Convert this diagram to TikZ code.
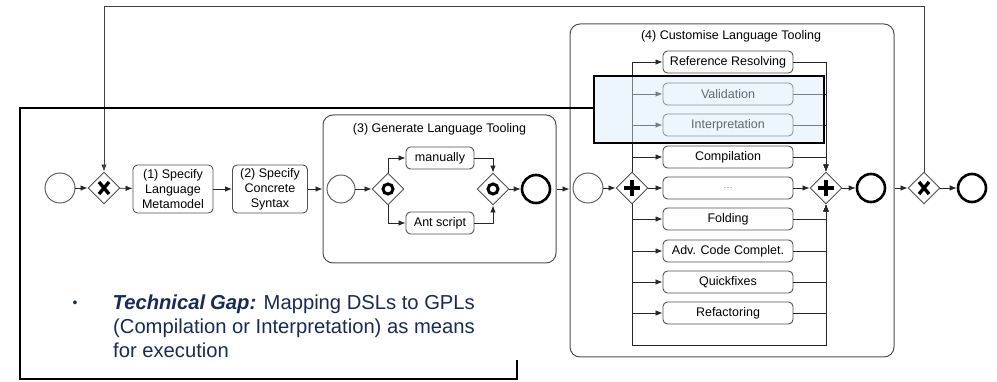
\documentclass[tikz,border=0pt]{standalone}
\usepackage{fontspec}
\setmainfont{Liberation Sans}
\usetikzlibrary{shapes.geometric, arrows.meta, calc}
\definecolor{navy}{RGB}{23,43,87}
\definecolor{hlblue}{RGB}{214,232,250}
\definecolor{edgec}{RGB}{40,40,40}
\definecolor{boxc}{RGB}{80,80,80}
\begin{document}
\begin{tikzpicture}[x=1pt,y=-1pt,
  font=\fontsize{12.5}{15}\selectfont,
  ev/.style={circle, draw=boxc, line width=0.9pt, minimum size=30pt, inner sep=0pt},
  endev/.style={circle, draw=black, line width=2.6pt, minimum size=28pt, inner sep=0pt},
  gw/.style={diamond, draw=boxc, line width=0.9pt, minimum width=32pt, minimum height=32pt, inner sep=0pt},
  xgw/.style={gw, path picture={
    \draw[line width=3.4pt, black]
      ($(path picture bounding box.center)+(-5pt,-6pt)$) -- ($(path picture bounding box.center)+(5pt,6pt)$)
      ($(path picture bounding box.center)+(-5pt,6pt)$) -- ($(path picture bounding box.center)+(5pt,-6pt)$);}},
  pgw/.style={gw, path picture={
    \draw[line width=3.8pt, black]
      ($(path picture bounding box.center)+(-8pt,0pt)$) -- ($(path picture bounding box.center)+(8pt,0pt)$)
      ($(path picture bounding box.center)+(0pt,-8pt)$) -- ($(path picture bounding box.center)+(0pt,8pt)$);}},
  ogw/.style={gw, path picture={
    \draw[line width=3pt, black] (path picture bounding box.center) circle[radius=5pt];}},
  task/.style={rectangle, rounded corners=4.5pt, draw=boxc, line width=0.9pt, align=center, inner sep=1pt},
  taskf/.style={task, minimum width=130pt, minimum height=22pt},
  sub/.style={rectangle, rounded corners=10pt, draw=boxc, line width=1pt, inner sep=0pt},
  flow/.style={draw=edgec, line width=0.8pt, -{Latex[length=7pt,width=5.5pt]}},
  frame/.style={draw=black, line width=2pt},
  gaptext/.style={inner sep=0pt, text=navy, font=\fontsize{20.2}{24}\selectfont},
]
\useasboundingbox (0,0) rectangle (997,382);

% subprocess containers
\node[sub, minimum width=233pt, minimum height=148pt] (sp3) at (439.5,189) {};
\node (sp3t) at (439.5,129) {(3) Generate Language Tooling};
\node[sub, minimum width=324pt, minimum height=333pt] (sp4) at (732,190.5) {};
\node (sp4t) at (731,36) {(4) Customise Language Tooling};

% main flow
\node[ev] (s0) at (60,188) {};
\node[xgw] (g1) at (104,188) {};
\node[task, minimum width=80pt, minimum height=48pt] (t1) at (173,189) {(1) Specify\\Language\\Metamodel};
\node[task, minimum width=75pt, minimum height=48pt] (t2) at (270,189) {(2) Specify\\Concrete\\Syntax};

% inside (3)
\node[ev, minimum size=28pt] (s3) at (341,189) {};
\node[ogw] (g3a) at (388,189) {};
\node[task, minimum width=68pt, minimum height=22pt] (man) at (440,158) {manually};
\node[task, minimum width=68pt, minimum height=22pt] (ant) at (440,223) {Ant script};
\node[ogw] (g3b) at (493,189) {};
\node[endev] (e3) at (536,189) {};

% inside (4)
\node[ev] (s4) at (588,188) {};
\node[pgw] (g4a) at (632,188) {};
\foreach \i/\t/\y in {1/Reference Resolving/62, 2/Validation/94, 3/Interpretation/125,
  4/Compilation/157, 6/Folding/219, 7/Adv. Code Complet./251,
  8/Quickfixes/282, 9/Refactoring/313}
  \node[taskf] (r\i) at (728,\y) {\t};
\node[taskf] (r5) at (728,188) {\textcolor{black!60}{\fontsize{9}{10}\selectfont .\kern0.5pt.\kern0.5pt.}};
\node[pgw] (g4b) at (826,188) {};
\node[endev] (e4) at (871,188) {};

% after (4)
\node[xgw] (g5) at (924,188) {};
\node[endev] (e5) at (972,188) {};

% connectors main
\draw[flow] (s0) -- (g1);
\draw[flow] (g1) -- (t1);
\draw[flow] (t1) -- (t2);
\draw[flow] (t2.east) -- (t2.east -| sp3.west);
\draw[flow] (sp3.east) -- (sp3.east -| sp4.west);
\draw[flow] (g5.west -| sp4.east) -- (g5.west);
\draw[flow] (g5) -- (e5);
\coordinate (ytop) at (924,6);
\draw[flow, draw=black!75] (g5.north) -- (ytop) -| (g1.north);

% connectors (3)
\draw[flow] (s3) -- (g3a);
\draw[flow] (g3a.north) |- (man.west);
\draw[flow] (g3a.south) |- (ant.west);
\draw[flow] (man.east) -| (g3b.north);
\draw[flow] (ant.east) -| (g3b.south);
\draw[flow] (g3b) -- (e3);

% connectors (4)
\draw[flow] (s4) -- (g4a);
\foreach \i in {1,2,3,4} {
  \draw[flow] (g4a.north) |- (r\i.west);
  \draw[flow] (r\i.east) -| (g4b.north);
}
\foreach \i in {6,7,8,9} {
  \draw[flow] (g4a.south) |- (r\i.west);
  \draw[flow] (r\i.east) -| (g4b.south);
}
\draw[flow] (g4a) -- (r5);
\draw[flow] (r5) -- (g4b);
\coordinate (yb) at (632,345);
\draw[flow] (g4a.south) -- (yb) -| (g4b.south);
\draw[flow] (g4b) -- (e4);

% highlight and frame
\fill[hlblue, fill opacity=0.45] (594,76) rectangle (824,143);
\draw[frame] (594,76) rectangle (824,143);
\draw[frame] (594,108) -- (20,108) -- (20,379) -- (517,379) -- (517,360);

% text
\node[gaptext, anchor=center, font=\fontsize{14}{14}\selectfont] (bul) at (75,304) {•};
\node[gaptext, anchor=north west, align=left] (gap) at (113,295)
  {\textbf{\textit{\kern-0.5pt Technical\kern-0.5pt\ Gap:}} Mapping DSLs to GPLs\\(Compilation or Interpretation) as means\\for execution};
\end{tikzpicture}
\end{document}
